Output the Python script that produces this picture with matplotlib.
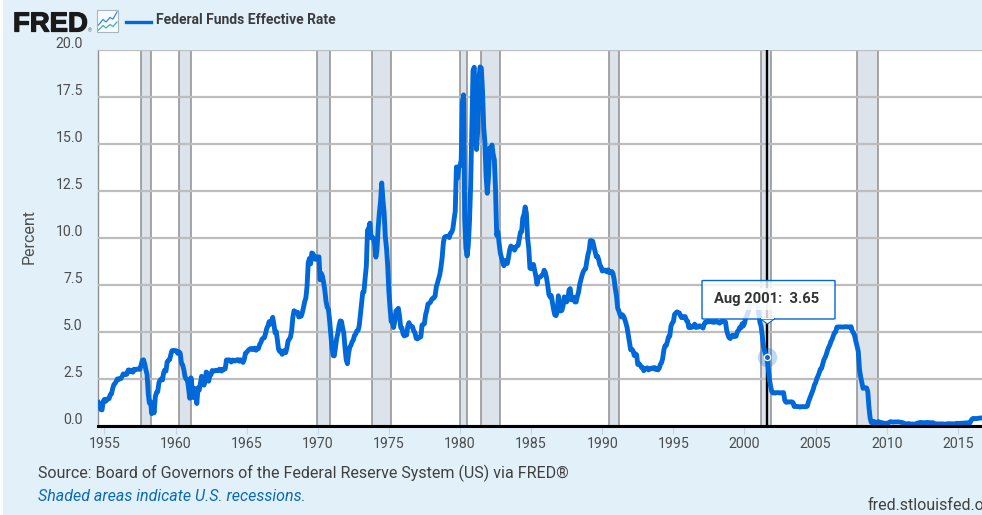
# grafico FRED - tasa de fondos federales (mensual)
import numpy as np
import pandas as pd
import matplotlib
matplotlib.use("Agg")
import matplotlib.pyplot as plt
import matplotlib.patheffects as pe
from matplotlib.patches import Rectangle, FancyBboxPatch, Polygon
from matplotlib.transforms import ScaledTranslation

# valores mensuales, ago 1954 en adelante
rate_1950s = [1.22, 1.07, 0.85, 0.83, 1.28,
              1.39, 1.29, 1.35, 1.43, 1.43, 1.64, 1.68, 1.96, 2.18, 2.24, 2.35, 2.48,
              2.45, 2.50, 2.50, 2.62, 2.75, 2.71, 2.75, 2.73, 2.95, 2.96, 2.88, 2.94,
              2.84, 3.00, 2.96, 3.00, 3.00, 3.00, 2.99, 3.24, 3.47, 3.50, 3.28, 2.98,
              2.72, 1.67, 1.20, 1.26, 0.63, 0.93, 0.68, 1.53, 1.76, 1.80, 2.27, 2.42,
              2.48, 2.43, 2.80, 2.96, 2.90, 3.39, 3.47, 3.50, 3.76, 3.98, 4.00, 3.99]
rate_1960s = [3.99, 3.97, 3.84, 3.92, 3.85, 3.32, 3.23, 2.98, 2.60, 2.47, 2.44, 1.98,
              1.45, 2.54, 2.02, 1.49, 1.98, 1.73, 1.17, 2.00, 1.88, 2.26, 2.62, 2.33,
              2.15, 2.37, 2.85, 2.78, 2.36, 2.68, 2.71, 2.93, 2.90, 2.90, 2.94, 2.93,
              2.92, 3.00, 2.98, 2.90, 3.00, 2.99, 3.02, 3.49, 3.48, 3.50, 3.48, 3.38,
              3.48, 3.48, 3.43, 3.47, 3.50, 3.50, 3.42, 3.50, 3.45, 3.36, 3.52, 3.85,
              3.90, 3.98, 4.04, 4.09, 4.10, 4.04, 4.09, 4.12, 4.01, 4.08, 4.10, 4.32,
              4.42, 4.60, 4.65, 4.67, 4.90, 5.17, 5.30, 5.53, 5.40, 5.53, 5.76, 5.40,
              4.94, 5.00, 4.53, 4.05, 3.94, 3.98, 3.79, 3.90, 3.99, 3.88, 4.13, 4.51,
              4.60, 4.71, 5.05, 5.76, 6.11, 6.07, 6.02, 6.03, 5.78, 5.91, 5.82, 6.02,
              6.30, 6.61, 6.79, 7.41, 8.67, 8.90, 8.61, 9.19, 9.15, 9.00, 8.85, 8.97]
rate_1970s = [8.98, 8.98, 7.76, 8.10, 7.95, 7.61, 7.21, 6.61, 6.29, 6.20, 5.60, 4.90,
              4.14, 3.72, 3.71, 4.16, 4.63, 4.91, 5.31, 5.57, 5.55, 5.20, 4.91, 4.14,
              3.50, 3.29, 3.83, 4.17, 4.27, 4.46, 4.55, 4.80, 4.87, 5.04, 5.06, 5.33,
              5.94, 6.58, 7.09, 7.12, 7.84, 8.49, 10.40, 10.50, 10.78, 10.01, 10.03, 9.95,
              9.65, 8.97, 9.35, 10.51, 11.31, 11.93, 12.92, 12.01, 11.34, 10.06, 9.45, 8.53,
              7.13, 6.24, 5.54, 5.49, 5.22, 5.55, 6.10, 6.14, 6.24, 5.82, 5.22, 5.20,
              4.87, 4.77, 4.84, 4.82, 5.29, 5.48, 5.31, 5.29, 5.25, 5.02, 4.95, 4.65,
              4.61, 4.68, 4.69, 4.73, 5.35, 5.39, 5.42, 5.90, 6.14, 6.47, 6.51, 6.56,
              6.70, 6.78, 6.79, 6.89, 7.36, 7.60, 7.81, 8.04, 8.45, 8.96, 9.76, 10.03,
              10.07, 10.06, 10.09, 10.01, 10.24, 10.29, 10.47, 10.94, 11.43, 13.77, 13.18, 13.78]
rate_1980s = [13.82, 14.13, 17.19, 17.61, 10.98, 9.47, 9.03, 9.61, 10.87, 12.81, 15.85, 18.90,
              19.08, 15.93, 14.70, 15.72, 18.52, 19.10, 19.04, 17.82, 15.87, 15.08, 13.31, 12.37,
              13.22, 14.78, 14.68, 14.94, 14.45, 14.15, 12.59, 10.12, 10.31, 9.71, 9.20, 8.95,
              8.68, 8.51, 8.77, 8.80, 8.63, 8.98, 9.37, 9.56, 9.45, 9.48, 9.34, 9.47,
              9.56, 9.59, 9.91, 10.29, 10.32, 11.06, 11.23, 11.64, 11.30, 9.99, 9.43, 8.38,
              8.35, 8.50, 8.58, 8.27, 7.97, 7.53, 7.88, 7.90, 7.92, 7.99, 8.05, 8.27,
              8.14, 7.86, 7.48, 6.99, 6.85, 6.92, 6.56, 6.17, 5.89, 5.85, 6.04, 6.91,
              6.43, 6.10, 6.13, 6.37, 6.85, 6.73, 6.58, 6.73, 7.22, 7.29, 6.69, 6.77,
              6.83, 6.58, 6.58, 6.87, 7.09, 7.51, 7.75, 8.01, 8.19, 8.30, 8.35, 8.76,
              9.12, 9.36, 9.85, 9.84, 9.81, 9.53, 9.24, 8.99, 9.02, 8.84, 8.55, 8.45]
rate_1990s = [8.23, 8.24, 8.28, 8.26, 8.18, 8.29, 8.15, 8.13, 8.20, 8.11, 7.81, 7.31,
              6.91, 6.25, 6.12, 5.91, 5.78, 5.90, 5.82, 5.66, 5.45, 5.21, 4.81, 4.43,
              4.03, 4.06, 3.98, 3.73, 3.82, 3.76, 3.25, 3.30, 3.22, 3.10, 3.09, 2.92,
              3.02, 3.03, 3.07, 2.96, 3.00, 3.04, 3.06, 3.03, 3.09, 2.99, 3.02, 2.96,
              3.05, 3.25, 3.34, 3.56, 4.01, 4.25, 4.26, 4.47, 4.73, 4.76, 5.29, 5.45,
              5.53, 5.92, 5.98, 6.05, 6.01, 6.00, 5.85, 5.74, 5.80, 5.76, 5.80, 5.60,
              5.56, 5.22, 5.31, 5.22, 5.24, 5.27, 5.40, 5.22, 5.30, 5.24, 5.31, 5.29,
              5.25, 5.19, 5.39, 5.51, 5.50, 5.56, 5.52, 5.54, 5.54, 5.50, 5.52, 5.50,
              5.56, 5.51, 5.49, 5.45, 5.49, 5.56, 5.54, 5.55, 5.51, 5.07, 4.83, 4.68,
              4.63, 4.76, 4.81, 4.74, 4.74, 4.76, 4.99, 5.07, 5.22, 5.20, 5.42, 5.30]
rate_2000s = [5.45, 5.73, 5.85, 6.02, 6.27, 6.53, 6.54, 6.50, 6.52, 6.51, 6.51, 6.40,
              5.98, 5.49, 5.31, 4.80, 4.21, 3.97, 3.77, 3.65, 3.07, 2.49, 2.09, 1.82,
              1.73, 1.74, 1.73, 1.75, 1.75, 1.75, 1.73, 1.74, 1.75, 1.75, 1.34, 1.24,
              1.24, 1.26, 1.25, 1.26, 1.26, 1.22, 1.01, 1.03, 1.01, 1.01, 1.00, 0.98,
              1.00, 1.01, 1.00, 1.00, 1.00, 1.03, 1.26, 1.43, 1.61, 1.76, 1.93, 2.16,
              2.28, 2.50, 2.63, 2.79, 3.00, 3.04, 3.26, 3.50, 3.62, 3.78, 4.00, 4.16,
              4.29, 4.49, 4.59, 4.79, 4.94, 4.99, 5.24, 5.25, 5.25, 5.25, 5.25, 5.24,
              5.25, 5.26, 5.26, 5.25, 5.25, 5.25, 5.26, 5.02, 4.94, 4.76, 4.49, 4.24,
              3.94, 2.98, 2.61, 2.28, 1.98, 2.00, 2.01, 2.00, 1.81, 0.97, 0.39, 0.16,
              0.15, 0.22, 0.18, 0.15, 0.18, 0.21, 0.16, 0.16, 0.15, 0.12, 0.12, 0.12]
rate_2010s = [0.11, 0.13, 0.16, 0.20, 0.20, 0.18, 0.18, 0.19, 0.19, 0.19, 0.19, 0.18,
              0.17, 0.16, 0.14, 0.10, 0.09, 0.09, 0.07, 0.10, 0.08, 0.07, 0.08, 0.07,
              0.08, 0.10, 0.13, 0.14, 0.16, 0.16, 0.16, 0.13, 0.14, 0.16, 0.16, 0.16,
              0.14, 0.15, 0.14, 0.15, 0.11, 0.09, 0.09, 0.08, 0.08, 0.09, 0.08, 0.09,
              0.07, 0.07, 0.08, 0.09, 0.09, 0.10, 0.09, 0.09, 0.09, 0.09, 0.09, 0.12,
              0.11, 0.11, 0.11, 0.12, 0.12, 0.13, 0.13, 0.14, 0.14, 0.12, 0.12, 0.24,
              0.34, 0.38, 0.36, 0.37, 0.37, 0.38, 0.39, 0.40, 0.40]

recession_start = ["1957-08-01", "1960-04-01", "1969-12-01", "1973-11-01", "1980-01-01",
                   "1981-07-01", "1990-07-01", "2001-03-01", "2007-12-01"]
recession_end = ["1958-04-01", "1961-02-01", "1970-11-01", "1975-03-01", "1980-07-01",
                 "1982-11-01", "1991-03-01", "2001-11-01", "2009-06-01"]
year_ticks = [1955, 1960, 1965, 1970, 1975, 1980, 1985, 1990, 1995, 2000, 2005, 2010, 2015]
percent_ticks = [0.0, 2.5, 5.0, 7.5, 10.0, 12.5, 15.0, 17.5, 20.0]
hover_date = "2001-08-01"
hover_value = 3.65

BLUE = "#0068d8"
BG = "#e2f0f9"
GREY = "#4d4d4d"
W, H = 982, 515

rates = rate_1950s + rate_1960s + rate_1970s + rate_1980s + rate_1990s + rate_2000s + rate_2010s
dates = pd.date_range("1954-08-01", periods=len(rates), freq="MS")
df = pd.DataFrame({"date": dates, "rate": rates})

plt.rcParams["font.family"] = ["Roboto", "DejaVu Sans"]
fig = plt.figure(figsize=(W / 100, H / 100), dpi=100, facecolor=BG)
ax = fig.add_axes([97.5 / W, 1 - 425.5 / H, (W - 97.5) / W, 375.5 / H])
ax.set_facecolor("white")

# recesiones
for a, b in zip(recession_start, recession_end):
    ax.axvspan(pd.Timestamp(a), pd.Timestamp(b), facecolor="#dce3ea", edgecolor="#8e8e8e",
               linewidth=1.1, zorder=1)

ax.set_ylim(0, 20)
ax.set_xlim(pd.Timestamp("1954-07-08"), pd.Timestamp("2016-09-12"))
ax.set_yticks(percent_ticks)
ax.set_yticklabels(["%.1f" % v for v in percent_ticks], fontsize=10.2, color=GREY)
ax.set_xticks([pd.Timestamp(str(y) + "-01-01") for y in year_ticks])
ax.set_xticklabels([str(y) for y in year_ticks], fontsize=10.2, color=GREY)
ax.tick_params(axis="y", length=0, pad=10.5)
ax.tick_params(axis="x", length=6, width=0.8, color="#c5d3e6", pad=2)
# etiquetas del eje y van un poco arriba de la grilla
up = ScaledTranslation(0, 7 / 100, fig.dpi_scale_trans)
for lab in ax.get_yticklabels():
    lab.set_transform(lab.get_transform() + up)
ax.grid(axis="y", color="#bdbdbd", linewidth=1.6, zorder=2)
ax.set_axisbelow(False)
for s in ["top", "right"]:
    ax.spines[s].set_visible(False)
ax.spines["left"].set_color("#8e8e8e")
ax.spines["left"].set_linewidth(1.0)
ax.spines["bottom"].set_color("black")
ax.spines["bottom"].set_linewidth(2.2)
ax.spines["bottom"].set_zorder(6)
ax.set_ylabel("")
fig.text(29 / W, 1 - 236 / H, "Percent", rotation=90, fontsize=11.5, color=GREY, va="center", ha="center")

ax.plot(df["date"], df["rate"], color=BLUE, linewidth=3.5, solid_joinstyle="round", zorder=4, clip_on=True)

# cursor y punto activo
hover_x = pd.Timestamp(hover_date)
ax.axvline(hover_x, color="black", linewidth=1.7, zorder=3)
ax.plot([hover_x], [hover_value], "o", ms=14, color=BLUE, alpha=0.25, mew=0, zorder=5)
ax.plot([hover_x], [hover_value], "o", ms=4.5, color=BLUE, mec="white", mew=0.9, zorder=6)


def fx(x):
    return x / W


def fy(y):
    return 1 - y / H


# tooltip
tip = FancyBboxPatch((fx(702), fy(319)), 133 / W, 38.5 / H, boxstyle="round,pad=0,rounding_size=0.002",
                     transform=fig.transFigure, facecolor="white", edgecolor="none", alpha=0.8, zorder=7, mutation_aspect=H / W)
fig.add_artist(tip)
tail = Polygon([(fx(760), fy(318.5)), (fx(767.5), fy(324)), (fx(775), fy(318.5))], closed=True, transform=fig.transFigure,
               facecolor="#f7f7f7", edgecolor=BLUE, linewidth=0.8, zorder=8)
fig.add_artist(tail)
border = FancyBboxPatch((fx(702), fy(319)), 133 / W, 38.5 / H, boxstyle="round,pad=0,rounding_size=0.002",
                        transform=fig.transFigure, facecolor="none", edgecolor=BLUE, linewidth=1.0, zorder=8, mutation_aspect=H / W)
fig.add_artist(border)
fig.add_artist(Rectangle((fx(760.8), fy(319.4)), 13.4 / W, 1.6 / H, transform=fig.transFigure, facecolor="#f7f7f7",
                         edgecolor="none", zorder=9))
fig.add_artist(Rectangle((fx(709), fy(310)), 116 / W, 22 / H, transform=fig.transFigure, facecolor="white",
                         edgecolor="none", alpha=0.75, zorder=8))
fig.text(fx(714), fy(299.5), "Aug 2001:  3.65", fontsize=10.6, fontweight="bold", color="#333333", va="center", zorder=10)

# encabezado
logo = fig.text(fx(13), fy(31.5), "FRED", family="Liberation Sans", fontsize=19.8, fontweight="bold", color="#1a1a1a", va="baseline")
logo.set_path_effects([pe.withStroke(linewidth=0.9, foreground="#1a1a1a")])
fig.text(fx(88), fy(32), "®", fontsize=3.5, color="#555555", va="baseline")
fig.add_artist(Rectangle((fx(97), fy(32)), 21 / W, 22 / H, transform=fig.transFigure, facecolor="#f8fbfd",
                         edgecolor="#a9b5bd", linewidth=0.8))
icon_x = [98.5, 103, 106, 110, 113, 117]
fig.add_artist(plt.Line2D([fx(v) for v in icon_x], [fy(v) for v in [25, 19.5, 22, 17.5, 19, 12]],
                          transform=fig.transFigure, color="#3a86dd", linewidth=0.9))
fig.add_artist(plt.Line2D([fx(v) for v in icon_x], [fy(v) for v in [30, 25.5, 28, 24.5, 26.5, 22]],
                          transform=fig.transFigure, color="#45b29d", linewidth=0.9))
fig.add_artist(plt.Line2D([fx(126), fx(151)], [fy(21.5), fy(21.5)], transform=fig.transFigure, color=BLUE, linewidth=2.4))
fig.text(fx(155.5), fy(20.5), "Federal Funds Effective Rate", fontsize=10, fontweight="bold", color="#3c3c3c", va="center")

# pie
fig.text(fx(38), fy(473.5), "Source: Board of Governors of the Federal Reserve System (US) via FRED®", fontsize=11.55,
         color="#404040", va="center")
fig.text(fx(38), fy(496.5), "Shaded areas indicate U.S. recessions.", fontsize=11.5, style="italic", color="#0a6ab8", va="center")
fig.text(fx(868), fy(505), "fred.stlouisfed.org", fontsize=11.5, color="#404040", va="center")

# borde blanco a la izquierda
fig.add_artist(Rectangle((0, 0), 3 / W, 1, transform=fig.transFigure, facecolor="white", edgecolor="none"))

fig.savefig("out.png", dpi=100, facecolor=BG)
